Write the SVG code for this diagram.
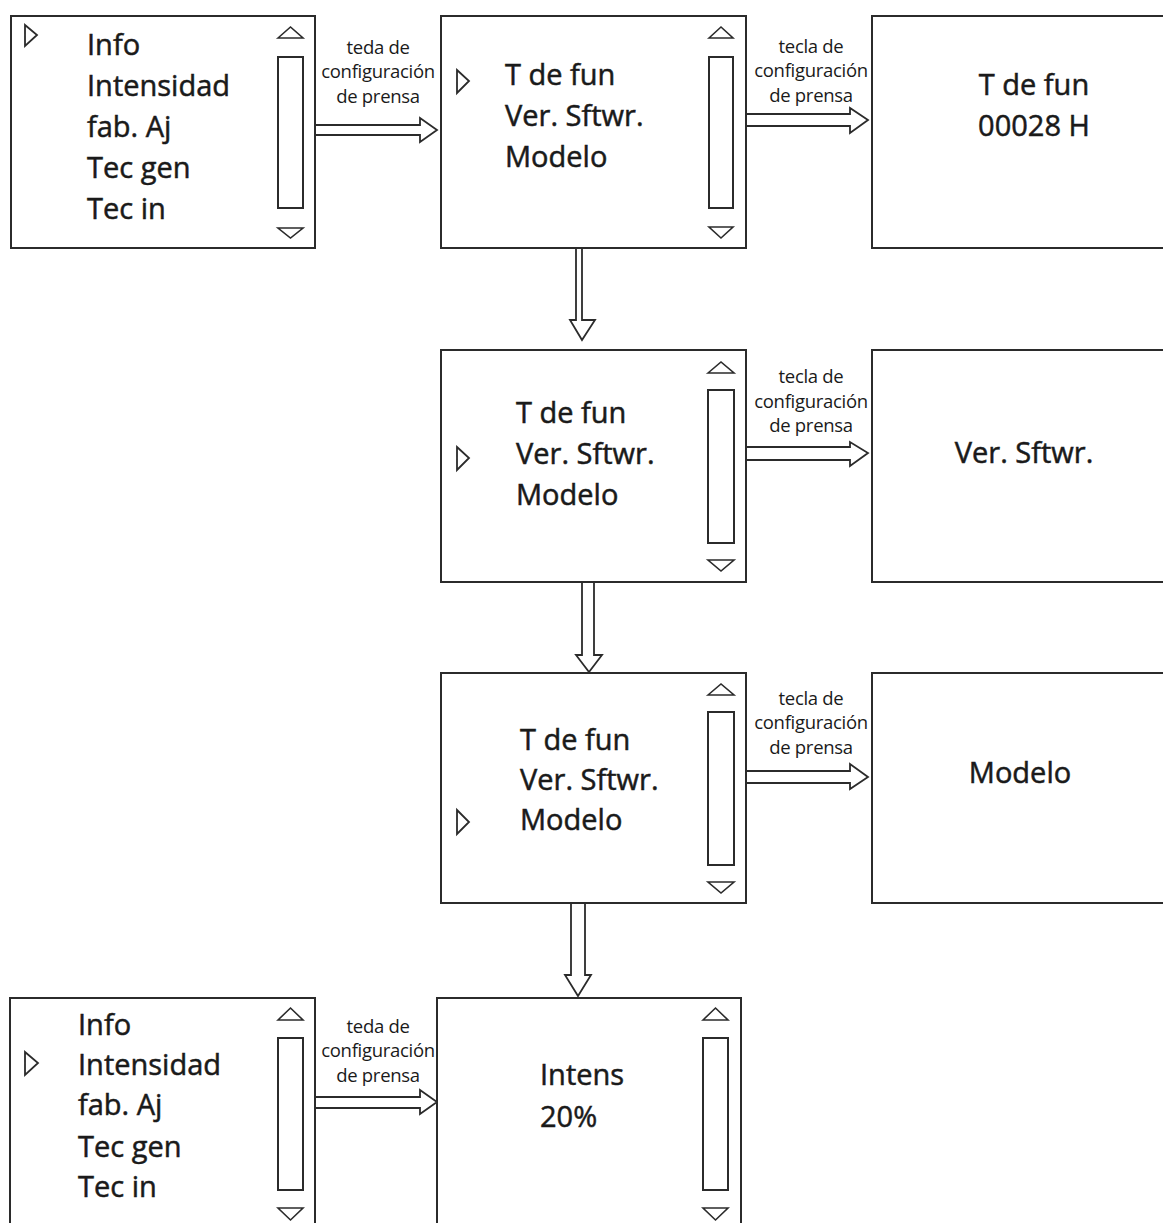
<svg xmlns="http://www.w3.org/2000/svg" width="1163" height="1223" viewBox="0 0 1163 1223">
<style>
.box{fill:#fff;stroke:#2b2b2b;stroke-width:2}
.sb{fill:#fff;stroke:#2b2b2b;stroke-width:2}
.tri{fill:#fff;stroke:#2b2b2b;stroke-width:1.6;stroke-linejoin:miter}
.ptr{fill:none;stroke:#2b2b2b;stroke-width:1.8}
.t{font-family:"Open Sans","Noto Sans",sans-serif;font-size:29px;fill:#1a1a1a;stroke:#1a1a1a;stroke-width:0.5}
.c{text-anchor:middle}
.lbl{font-family:"Open Sans","Noto Sans",sans-serif;font-size:18.5px;fill:#1a1a1a;text-anchor:middle;letter-spacing:-0.3px}
.arr{fill:#fff;stroke:#2b2b2b;stroke-width:1.8;stroke-linejoin:miter}
</style>
<rect width="1163" height="1223" fill="#fff"/>

<g id="connectors">
  <path class="arr" d="M315,125 H420 V118 L437,130 L420,142 V135 H315"/>
  <path class="arr" d="M746,114 H850 V108 L868,120 L850,133 V126 H746"/>
  <path class="arr" d="M582,248 V320 H595 L582,340 L570,320 H576 V248"/>
  <path class="arr" d="M746,447 H850 V442 L868,453 L850,466 V460 H746"/>
  <path class="arr" d="M582,582 V655 H576 L589,672 L602,655 H594 V582"/>
  <path class="arr" d="M746,771 H850 V764 L868,777 L850,789 V783 H746"/>
  <path class="arr" d="M571,903 V975 H565 L578,996 L591,975 H585 V903"/>
  <path class="arr" d="M315,1097 H420 V1090 L437,1102 L420,1114 V1108 H315"/>
  <text class="lbl"><tspan x="378" y="54">teda de</tspan><tspan x="378" y="78">configuración</tspan><tspan x="378" y="103">de prensa</tspan></text>
  <text class="lbl"><tspan x="811" y="53">tecla de</tspan><tspan x="811" y="77">configuración</tspan><tspan x="811" y="102">de prensa</tspan></text>
  <text class="lbl"><tspan x="811" y="383">tecla de</tspan><tspan x="811" y="408">configuración</tspan><tspan x="811" y="432">de prensa</tspan></text>
  <text class="lbl"><tspan x="811" y="705">tecla de</tspan><tspan x="811" y="729">configuración</tspan><tspan x="811" y="754">de prensa</tspan></text>
  <text class="lbl"><tspan x="378" y="1033">teda de</tspan><tspan x="378" y="1057">configuración</tspan><tspan x="378" y="1082">de prensa</tspan></text>
</g>

<g id="menu-main-1">
  <rect class="box" x="11" y="16" width="304" height="232"/>
  <path class="ptr" d="M25,25 L37,35 L25,46 Z"/>
  <text class="t" x="87" y="55">Info</text>
  <text class="t" x="87" y="96">Intensidad</text>
  <text class="t" x="87" y="137">fab. Aj</text>
  <text class="t" x="87" y="178">Tec gen</text>
  <text class="t" x="87" y="219">Tec in</text>
  <path class="tri" d="M278,38 L290.5,27 L303,38 Z"/>
  <rect class="sb" x="278" y="57" width="25" height="151"/>
  <path class="tri" d="M278,228 L303,228 L290.5,238 Z"/>
</g>

<g id="info-menu-1">
  <rect class="box" x="441" y="16" width="305" height="232"/>
  <path class="ptr" d="M457,70 L469,81 L457,93 Z"/>
  <text class="t" x="505" y="85">T de fun</text>
  <text class="t" x="505" y="126">Ver. Sftwr.</text>
  <text class="t" x="505" y="167">Modelo</text>
  <path class="tri" d="M709,38 L721,27 L733,38 Z"/>
  <rect class="sb" x="709" y="57" width="24" height="151"/>
  <path class="tri" d="M709,227 L733,227 L721,238 Z"/>
</g>

<g id="runtime-display">
  <rect class="box" x="872" y="16" width="300" height="232"/>
  <text class="t c" x="1034" y="95">T de fun</text>
  <text class="t c" x="1034" y="136">00028 H</text>
</g>

<g id="info-menu-2">
  <rect class="box" x="441" y="350" width="305" height="232"/>
  <path class="ptr" d="M457,447 L469,458 L457,470 Z"/>
  <text class="t" x="516" y="423">T de fun</text>
  <text class="t" x="516" y="464">Ver. Sftwr.</text>
  <text class="t" x="516" y="505">Modelo</text>
  <path class="tri" d="M708,373 L721,362 L734,373 Z"/>
  <rect class="sb" x="708" y="390" width="26" height="153"/>
  <path class="tri" d="M708,560 L734,560 L721,571 Z"/>
</g>

<g id="software-display">
  <rect class="box" x="872" y="350" width="300" height="232"/>
  <text class="t c" x="1024" y="463">Ver. Sftwr.</text>
</g>

<g id="info-menu-3">
  <rect class="box" x="441" y="673" width="305" height="230"/>
  <path class="ptr" d="M457,810 L469,822 L457,834 Z"/>
  <text class="t" x="520" y="750">T de fun</text>
  <text class="t" x="520" y="790">Ver. Sftwr.</text>
  <text class="t" x="520" y="830">Modelo</text>
  <path class="tri" d="M708,695 L721,684 L734,695 Z"/>
  <rect class="sb" x="708" y="712" width="26" height="153"/>
  <path class="tri" d="M708,882 L734,882 L721,893 Z"/>
</g>

<g id="model-display">
  <rect class="box" x="872" y="673" width="300" height="230"/>
  <text class="t c" x="1020" y="783">Modelo</text>
</g>

<g id="intensity-display">
  <rect class="box" x="437" y="998" width="304" height="240"/>
  <text class="t" x="540" y="1085">Intens</text>
  <text class="t" x="540" y="1127">20%</text>
  <path class="tri" d="M703,1020 L715.5,1008 L728,1020 Z"/>
  <rect class="sb" x="703" y="1038" width="25" height="152"/>
  <path class="tri" d="M703,1208 L728,1208 L715.5,1220 Z"/>
</g>

<g id="menu-main-2">
  <rect class="box" x="10" y="998" width="305" height="240"/>
  <path class="ptr" d="M25,1052 L38,1063 L25,1075 Z"/>
  <text class="t" x="78" y="1035">Info</text>
  <text class="t" x="78" y="1075">Intensidad</text>
  <text class="t" x="78" y="1115">fab. Aj</text>
  <text class="t" x="78" y="1157">Tec gen</text>
  <text class="t" x="78" y="1197">Tec in</text>
  <path class="tri" d="M278,1020 L290.5,1008 L303,1020 Z"/>
  <rect class="sb" x="278" y="1038" width="25" height="152"/>
  <path class="tri" d="M278,1208 L303,1208 L290.5,1220 Z"/>
</g>
</svg>
